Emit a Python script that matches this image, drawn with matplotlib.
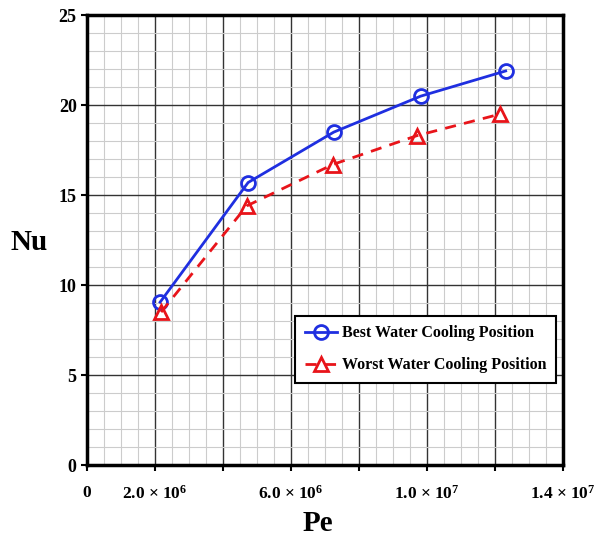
import matplotlib
matplotlib.use('Agg')
import matplotlib.pyplot as plt
from matplotlib.ticker import MultipleLocator

# Data
pe_best = [2.15e6, 4.74e6, 7.26e6, 9.82e6, 1.232e7]
nu_best = [9.05, 15.7, 18.5, 20.5, 21.9]
pe_worst = [2.18e6, 4.70e6, 7.23e6, 9.70e6, 1.215e7]
nu_worst = [8.5, 14.4, 16.7, 18.3, 19.5]

x_tick_pos = [0, 2e6, 6e6, 1e7, 1.4e7]
x_tick_labels = ['0', r'2.0 $\times$ 10$^{6}$', r'6.0 $\times$ 10$^{6}$',
                 r'1.0 $\times$ 10$^{7}$', r'1.4 $\times$ 10$^{7}$']

plt.rcParams['font.family'] = 'Liberation Serif'
plt.rcParams['font.weight'] = 'bold'
plt.rcParams['mathtext.fontset'] = 'custom'
plt.rcParams['mathtext.rm'] = 'Liberation Serif:bold'
plt.rcParams['mathtext.it'] = 'Liberation Serif:bold'
plt.rcParams['mathtext.default'] = 'rm'

fig = plt.figure(figsize=(6.13, 5.42), dpi=100)
ax = fig.add_axes([0.142, 0.142, 0.776, 0.830])

ax.plot(pe_best, nu_best, color='#1f2fe0', lw=2, marker='o', ms=10,
        mfc='none', mew=2, label='Best Water Cooling Position', zorder=5)
ax.plot(pe_worst, nu_worst, color='#e8141a', lw=2, ls=(0, (4, 3)), marker='^',
        ms=10, mfc='none', mew=2, label='Worst Water Cooling Position', zorder=5)

ax.set_xlim(0, 1.4e7)
ax.set_ylim(0, 25)

# grid: minor light, major dark
ax.xaxis.set_major_locator(MultipleLocator(2e6))
ax.xaxis.set_minor_locator(MultipleLocator(0.5e6))
ax.yaxis.set_major_locator(MultipleLocator(5))
ax.yaxis.set_minor_locator(MultipleLocator(1))
ax.grid(which='major', color='#333333', lw=1.0)
ax.grid(which='minor', color='#cccccc', lw=0.8)
ax.set_axisbelow(True)
ax.tick_params(which='minor', length=0)
ax.tick_params(which='major', direction='out', length=4, width=1.5,
               labelsize=13, color='black')
ax.set_xticklabels([])

# x labels only at some positions, drawn as text
for xv, lab in zip(x_tick_pos, x_tick_labels):
    ax.text(xv, -1.1, lab, ha='center', va='top', fontsize=12.5,
            fontweight='bold')

for s in ax.spines.values():
    s.set_linewidth(2.5)
    s.set_color('black')

fig.text(0.047, 0.553, 'Nu', fontsize=21, fontweight='bold',
         ha='center', va='center')
fig.text(0.518, 0.035, 'Pe', fontsize=21, fontweight='bold',
         ha='center', va='center')

leg = ax.legend(loc='lower right', bbox_to_anchor=(0.985, 0.183),
                fontsize=11.5, frameon=True, fancybox=False, handlelength=2.0,
                borderpad=0.6, labelspacing=1.0, handletextpad=0.3,
                borderaxespad=0)
leg.get_frame().set_edgecolor('black')
leg.get_frame().set_linewidth(1.5)
leg.get_frame().set_alpha(1)
for t in leg.get_texts():
    t.set_fontweight('bold')

fig.savefig('out.png', dpi=100)
